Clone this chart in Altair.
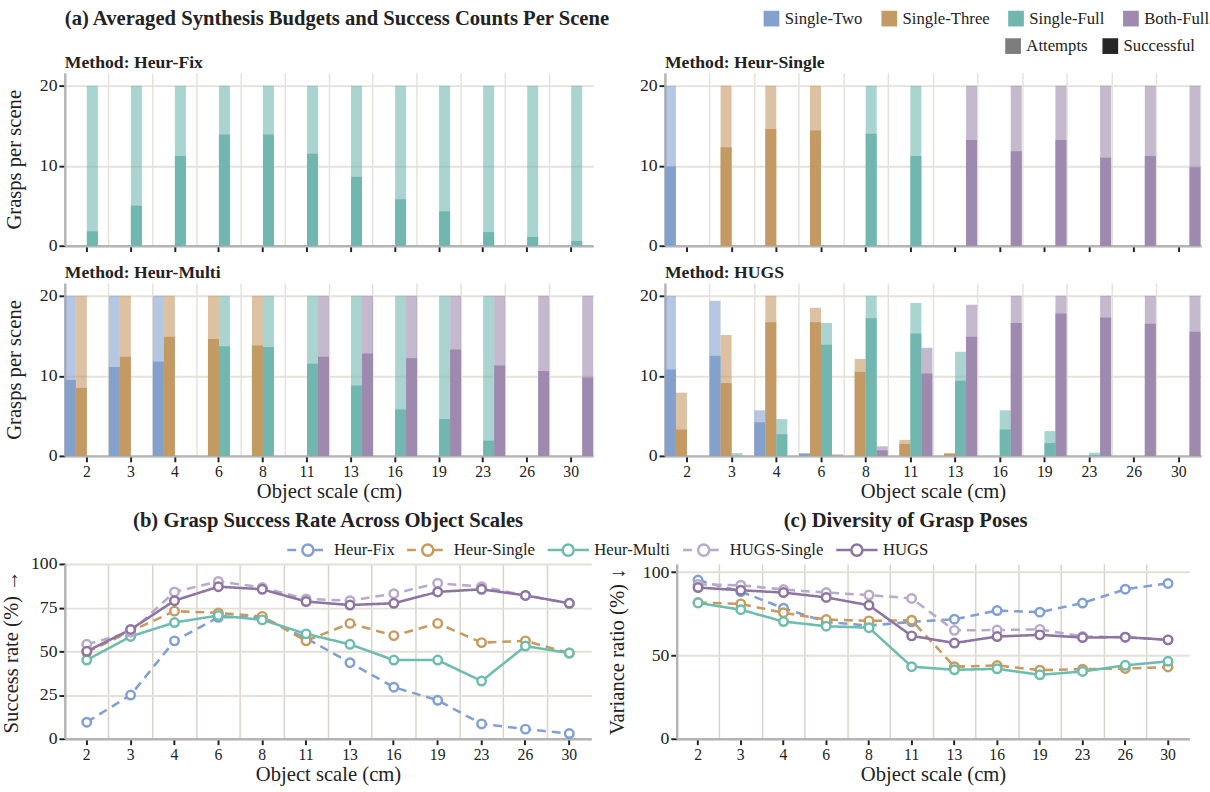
import altair as alt
import pandas as pd

FONT = 'Liberation Serif'
TXT = '#222222'

scales = ['2', '3', '4', '6', '8', '11', '13', '16', '19', '23', '26', '30']
types = ['Single-Two', 'Single-Three', 'Single-Full', 'Both-Full']
type_colors = ['#84a1ce', '#c49a64', '#71b7b0', '#9e8aae']
kinds = ['Attempts', 'Successful']
N = None

# ---- (a) budgets: attempts / successful per scene ----
fix_full_att = [20, 20, 20, 20, 20, 20, 20, 20, 20, 20, 20, 20]
fix_full_succ = [1.8, 5.0, 11.2, 13.9, 13.9, 11.5, 8.6, 5.8, 4.3, 1.7, 1.1, 0.6]

hs_two_att = [20, N, N, N, N, N, N, N, N, N, N, N]
hs_two_succ = [9.9, N, N, N, N, N, N, N, N, N, N, N]
hs_three_att = [N, 20, 20, 20, N, N, N, N, N, N, N, N]
hs_three_succ = [N, 12.3, 14.6, 14.4, N, N, N, N, N, N, N, N]
hs_full_att = [N, N, N, N, 20, 20, N, N, N, N, N, N]
hs_full_succ = [N, N, N, N, 14.0, 11.2, N, N, N, N, N, N]
hs_both_att = [N, N, N, N, N, N, 20, 20, 20, 20, 20, 20]
hs_both_succ = [N, N, N, N, N, N, 13.2, 11.8, 13.2, 11.0, 11.2, 9.8]

hm_two_att = [20, 20, 20, N, N, N, N, N, N, N, N, N]
hm_two_succ = [9.5, 11.1, 11.8, N, N, N, N, N, N, N, N, N]
hm_three_att = [20, 20, 20, 20, 20, N, N, N, N, N, N, N]
hm_three_succ = [8.5, 12.4, 14.9, 14.6, 13.8, N, N, N, N, N, N, N]
hm_full_att = [N, N, N, 20, 20, 20, 20, 20, 20, 20, N, N]
hm_full_succ = [N, N, N, 13.7, 13.6, 11.5, 8.8, 5.8, 4.6, 1.9, N, N]
hm_both_att = [N, N, N, N, N, 20, 20, 20, 20, 20, 20, 20]
hm_both_succ = [N, N, N, N, N, 12.4, 12.8, 12.2, 13.3, 11.3, 10.6, 9.8]

hg_two_att = [20, 19.4, 5.7, 0.3, N, N, N, N, N, N, N, N]
hg_two_succ = [10.8, 12.5, 4.2, 0.3, N, N, N, N, N, N, N, N]
hg_three_att = [7.9, 15.1, 20, 18.5, 12.1, 2.0, 0.3, N, N, N, N, N]
hg_three_succ = [3.3, 9.1, 16.7, 16.7, 10.5, 1.5, 0.3, N, N, N, N, N]
hg_full_att = [N, 0.35, 4.6, 16.6, 20, 19.1, 13.0, 5.7, 3.1, 0.4, N, N]
hg_full_succ = [N, 0.0, 2.7, 13.9, 17.2, 15.3, 9.4, 3.3, 1.6, 0.1, N, N]
hg_both_att = [N, N, N, 0.2, 1.2, 13.5, 18.9, 20, 20, 20, 20, 20]
hg_both_succ = [N, N, N, 0.0, 0.7, 10.3, 14.9, 16.6, 17.8, 17.3, 16.5, 15.5]

bar_data = {
    'Heur-Fix': {'Single-Full': (fix_full_att, fix_full_succ)},
    'Heur-Single': {'Single-Two': (hs_two_att, hs_two_succ),
                    'Single-Three': (hs_three_att, hs_three_succ),
                    'Single-Full': (hs_full_att, hs_full_succ),
                    'Both-Full': (hs_both_att, hs_both_succ)},
    'Heur-Multi': {'Single-Two': (hm_two_att, hm_two_succ),
                   'Single-Three': (hm_three_att, hm_three_succ),
                   'Single-Full': (hm_full_att, hm_full_succ),
                   'Both-Full': (hm_both_att, hm_both_succ)},
    'HUGS': {'Single-Two': (hg_two_att, hg_two_succ),
             'Single-Three': (hg_three_att, hg_three_succ),
             'Single-Full': (hg_full_att, hg_full_succ),
             'Both-Full': (hg_both_att, hg_both_succ)},
}

rows = []
for ki, kind in enumerate(kinds):
    for m, d in bar_data.items():
        for t, pair in d.items():
            for s, v in zip(scales, pair[ki]):
                if v is not None:
                    rows.append({'method': m, 'scale': s, 'type': t, 'kind': kind, 'value': v})
bdf = pd.DataFrame(rows)

# ---- (b) success rate, (c) variance ratio ----
methods = ['Heur-Fix', 'Heur-Single', 'Heur-Multi', 'HUGS-Single', 'HUGS']
line_colors = ['#7f9fd5', '#c99a5d', '#6cbdae', '#b9a9cb', '#8d74a2']
line_dashes = [[9, 6], [9, 6], [1, 0], [9, 6], [1, 0]]

success = {
    'Heur-Fix': [9.5, 25, 56, 69.5, 69.5, 57.5, 43.5, 29.5, 22, 8.5, 5.5, 3],
    'Heur-Single': [49.5, 61.5, 73, 72, 70, 56, 66, 59, 66, 55, 56, 49],
    'Heur-Multi': [45, 58.5, 66.5, 70.5, 68, 60, 54, 45, 45, 33, 53, 49],
    'HUGS-Single': [54, 61, 84, 90, 86.5, 80, 79, 83, 89, 87, 82, 77.5],
    'HUGS': [50, 62.5, 79, 87, 85.5, 78.5, 76.5, 77.5, 84, 85.5, 82, 77.5],
}
variance = {
    'Heur-Fix': [95.3, 88.4, 78.4, 70.2, 68, 70.2, 71.8, 77, 76, 81.5, 89.8, 93.3],
    'Heur-Single': [81.8, 81, 75.7, 71.6, 70.8, 71.2, 43.3, 44, 41.2, 41.8, 42.2, 43.1],
    'Heur-Multi': [81.6, 77.5, 70.4, 67.6, 66.7, 43.3, 41.4, 42, 38.4, 40.4, 44.1, 46.5],
    'HUGS-Single': [92.7, 92.2, 89.6, 87.8, 86.3, 84.3, 65.1, 65.3, 65.7, 61.4, 61, 59.4],
    'HUGS': [90.8, 89.2, 87.8, 84.9, 80.2, 61.8, 57.5, 61.4, 62.4, 60.8, 61, 59.4],
}
lrows = []
for m in methods:
    for i, s in enumerate(scales):
        lrows.append({'method': m, 'scale': s, 'success': success[m][i], 'variance': variance[m][i]})
ldf = pd.DataFrame(lrows)

DOMAIN = dict(domainColor='#b4b4b4', domainWidth=2.5, tickColor=TXT, tickWidth=2, tickSize=6,
              labelColor=TXT, titleColor=TXT, labelFont=FONT, titleFont=FONT, titleFontWeight='normal')

CLEG = alt.Legend(orient='none', legendX=711, legendY=-64, direction='horizontal', title=None,
                  symbolType='square', symbolSize=256, symbolStrokeWidth=0, labelFontSize=17,
                  labelFont=FONT, labelColor=TXT, columnPadding=18, labelOffset=5)
OLEG = alt.Legend(orient='none', legendX=957, legendY=-36, direction='horizontal', title=None,
                  symbolType='square', symbolSize=256, symbolStrokeWidth=0, symbolFillColor='#262626',
                  labelFontSize=17, labelFont=FONT, labelColor=TXT, columnPadding=14, labelOffset=5)


def bar_panel(m, bottom, left, title, width):
    src = bdf[bdf.method == m]
    xs = alt.Scale(type='band', domain=scales, paddingInner=0, paddingOuter=0)
    grid = alt.Chart(src).mark_tick(opacity=0).encode(
        x=alt.X('scale:N', scale=xs,
                axis=alt.Axis(orient='bottom', bandPosition=0, grid=True, gridColor='#e6e2da', gridWidth=1.5,
                              ticks=False, labels=False, domain=False, title=None)))
    xaxis = alt.Axis(orient='bottom', grid=False, labels=bottom, labelAngle=0, labelFontSize=16, labelPadding=2,
                     title='Object scale (cm)' if bottom else None, titleFontSize=21, titlePadding=1, **DOMAIN)
    yaxis = alt.Axis(values=[0, 10, 20], grid=True, gridColor='#e6e2da', gridWidth=2, labelFontSize=18,
                     labelPadding=2, title='Grasps per scene' if left else None, titleFontSize=21,
                     titlePadding=15, **DOMAIN)
    bars = alt.Chart(src).mark_bar().encode(
        x=alt.X('scale:N', scale=xs, axis=xaxis),
        xOffset=alt.XOffset('type:N', scale=alt.Scale(domain=types, paddingInner=0, paddingOuter=0)),
        y=alt.Y('value:Q', stack=None, scale=alt.Scale(domain=[0, 21.6], nice=False), axis=yaxis),
        color=alt.Color('type:N', scale=alt.Scale(domain=types, range=type_colors), legend=CLEG),
        opacity=alt.Opacity('kind:N', scale=alt.Scale(domain=kinds, range=[0.6, 1.0]), legend=OLEG),
    )
    return alt.layer(grid, bars).resolve_axis(x='independent').properties(width=width, height=176, title=title)


def line_panel(field, ytitle, ydomain, yvalues, title, width, tpad):
    xs = alt.Scale(type='band', domain=scales, paddingInner=0, paddingOuter=0)
    grid = alt.Chart(ldf).mark_tick(opacity=0).encode(
        x=alt.X('scale:N', scale=xs,
                axis=alt.Axis(orient='bottom', bandPosition=0, grid=True, gridColor='#d9d4c9', gridWidth=1.5,
                              ticks=False, labels=False, domain=False, title=None)))
    xaxis = alt.Axis(orient='bottom', grid=False, labelAngle=0, labelFontSize=16, labelPadding=2,
                     title='Object scale (cm)', titleFontSize=21, titlePadding=1, **DOMAIN)
    yaxis = alt.Axis(values=yvalues, grid=True, gridColor='#e4e0d8', gridWidth=2, labelFontSize=18,
                     labelPadding=2, title=ytitle, titleFontSize=21, titlePadding=tpad, **DOMAIN)
    y = alt.Y(field + ':Q', scale=alt.Scale(domain=ydomain, nice=False), axis=yaxis)
    lega = alt.Legend(orient='none', legendX=225, legendY=-37, direction='horizontal', title=None,
                      symbolType='M-1,0L-0.3,0M0.3,0L1,0', symbolSize=1764, symbolStrokeWidth=2.5,
                      labelFontSize=17, labelFont=FONT, labelColor=TXT, columnPadding=7, labelOffset=4)
    legb = alt.Legend(orient='none', legendX=225, legendY=-37, direction='horizontal', title=None,
                      symbolType='M-1,0L-0.999,0M0.27,0A0.27,0.27,0,1,1,-0.27,0A0.27,0.27,0,1,1,0.27,0M0.999,0L1,0',
                      symbolSize=1764, symbolStrokeWidth=2.5, symbolFillColor='white', labelOpacity=0,
                      labelFontSize=17, labelFont=FONT, labelColor=TXT, columnPadding=7, labelOffset=4)
    lines = alt.Chart(ldf).mark_line(strokeWidth=2.6).encode(
        x=alt.X('scale:N', scale=xs, axis=xaxis, bandPosition=0.5), y=y,
        stroke=alt.Stroke('method:N', scale=alt.Scale(domain=methods, range=line_colors), legend=lega),
        strokeDash=alt.StrokeDash('method:N', scale=alt.Scale(domain=methods, range=line_dashes), legend=lega),
    )
    pts = alt.Chart(ldf).mark_point(filled=False, fill='white', strokeWidth=2.5, size=75, opacity=1).encode(
        x=alt.X('scale:N', scale=xs, axis=None, bandPosition=0.5), y=y,
        color=alt.Color('method:N', sort=methods, scale=alt.Scale(range=line_colors), legend=legb),
    )
    return alt.layer(grid, lines, pts).resolve_axis(x='independent').properties(width=width, height=178, title=title)


TTL = dict(font=FONT, color=TXT, fontWeight='bold', frame='group')

p_fix = bar_panel('Heur-Fix', False, True,
                  alt.Title('(a) Averaged Synthesis Budgets and Success Counts Per Scene', subtitle='Method: Heur-Fix',
                            anchor='start', fontSize=21, subtitleFont=FONT, subtitleFontSize=18,
                            subtitleFontWeight='bold', subtitleColor=TXT, subtitlePadding=26, offset=1, **TTL), 538)
p_single = bar_panel('Heur-Single', False, False,
                     alt.Title('Method: Heur-Single', anchor='start', fontSize=18, offset=1, **TTL), 546)
p_multi = bar_panel('Heur-Multi', True, True,
                    alt.Title('Method: Heur-Multi', anchor='start', fontSize=18, offset=1, **TTL), 538)
p_hugs = bar_panel('HUGS', True, False,
                   alt.Title('Method: HUGS', anchor='start', fontSize=18, offset=1, **TTL), 546)

row1 = alt.hconcat(p_fix, p_single, spacing=28)
row2 = alt.hconcat(p_multi, p_hugs, spacing=46)
top = alt.vconcat(row1, row2, spacing=10)

pb = line_panel('success', 'Success rate (%) \u2192', [0, 100], [0, 25, 50, 75, 100],
                alt.Title('(b) Grasp Success Rate Across Object Scales', anchor='middle',
                          fontSize=21, offset=25, **TTL), 536, 9)
pc = line_panel('variance', 'Variance ratio (%) \u2193', [0, 105], [0, 50, 100],
                alt.Title('(c) Diversity of Grasp Poses', anchor='middle', dx=-28,
                          fontSize=21, offset=33, **TTL), 522, 15)
bottom = alt.hconcat(pb, pc, spacing=16)

chart = alt.concat(top, bottom, columns=1, align='none', spacing=9).resolve_scale(
    color='independent', opacity='independent', stroke='independent', strokeDash='independent'
).properties(padding={'left': 1, 'top': 1, 'right': 0, 'bottom': 0}).configure(
    font=FONT
).configure_view(stroke=None)

chart.save('out.html', embed_options={'renderer': 'svg', 'actions': False})
